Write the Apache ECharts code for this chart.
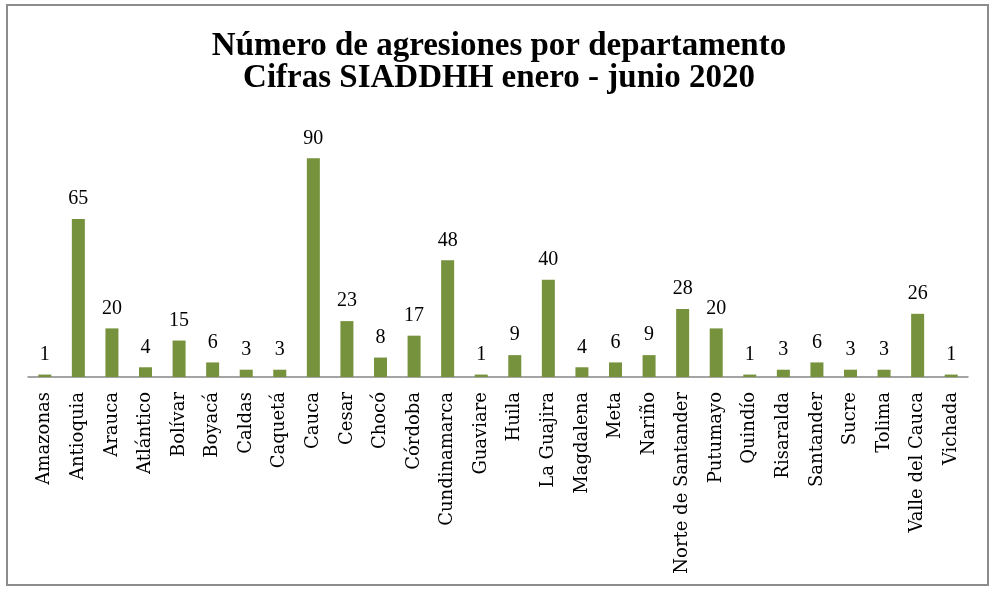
<!DOCTYPE html>
<html>
<head>
<meta charset="utf-8">
<script src="https://cdn.jsdelivr.net/npm/echarts@6/dist/echarts.min.js"></script>
<style>
html, body { margin: 0; padding: 0; background: #fff; }
#chart { width: 998px; height: 591px; }
</style>
</head>
<body>
<div id="chart"></div>
<script>
//departamentos
var departamentos = ['Amazonas', 'Antioquia', 'Arauca', 'Atlántico', 'Bolívar', 'Boyacá',
	'Caldas', 'Caquetá', 'Cauca', 'Cesar', 'Chocó', 'Córdoba', 'Cundinamarca', 'Guaviare',
	'Huila', 'La Guajira', 'Magdalena', 'Meta', 'Nariño', 'Norte de Santander', 'Putumayo',
	'Quindío', 'Risaralda', 'Santander', 'Sucre', 'Tolima', 'Valle del Cauca', 'Vichada'];

//número de agresiones
var agresiones = [1, 65, 20, 4, 15, 6, 3, 3, 90, 23, 8, 17, 48, 1, 9, 40, 4, 6, 9, 28, 20,
	1, 3, 6, 3, 3, 26, 1];

var titulo = 'Número de agresiones por departamento\nCifras SIADDHH enero - junio 2020';

var fuenteEje = '"DejaVu Serif", serif';
var fuenteTexto = '"Liberation Serif", serif';

var chart = echarts.init(document.getElementById('chart'));

var option = {
	animation : false,
	title : {
		text : titulo,
		left : 'center',
		top : 25,
		textStyle : {
			fontFamily : fuenteTexto,
			fontWeight : 'bold',
			fontSize : 33,
			lineHeight : 32,
			color : '#000'
		}
	},
	graphic : [ {
		type : 'rect',
		shape : { x : 7, y : 5, width : 981, height : 580 },
		style : { fill : 'none', stroke : '#8c8c8c', lineWidth : 2 }
	} ],
	grid : {
		left : 28,
		right : 30,
		top : 134,
		bottom : 214
	},
	xAxis : {
		type : 'category',
		data : departamentos,
		axisLine : { lineStyle : { color : '#868686', width : 1.5 } },
		axisTick : { show : false },
		axisLabel : {
			interval : 0,
			rotate : 90,
			margin : 15,
			fontFamily : fuenteEje,
			fontSize : 18,
			color : '#000'
		}
	},
	yAxis : {
		type : 'value',
		min : 0,
		max : 100,
		show : false,
		splitLine : { show : false }
	},
	series : [ {
		type : 'bar',
		data : agresiones,
		barWidth : 13,
		itemStyle : { color : '#76923C' },
		label : {
			show : true,
			position : 'top',
			distance : 10,
			fontFamily : fuenteTexto,
			fontSize : 20,
			color : '#000'
		}
	} ]
};

chart.setOption(option, true);
</script>
</body>
</html>
